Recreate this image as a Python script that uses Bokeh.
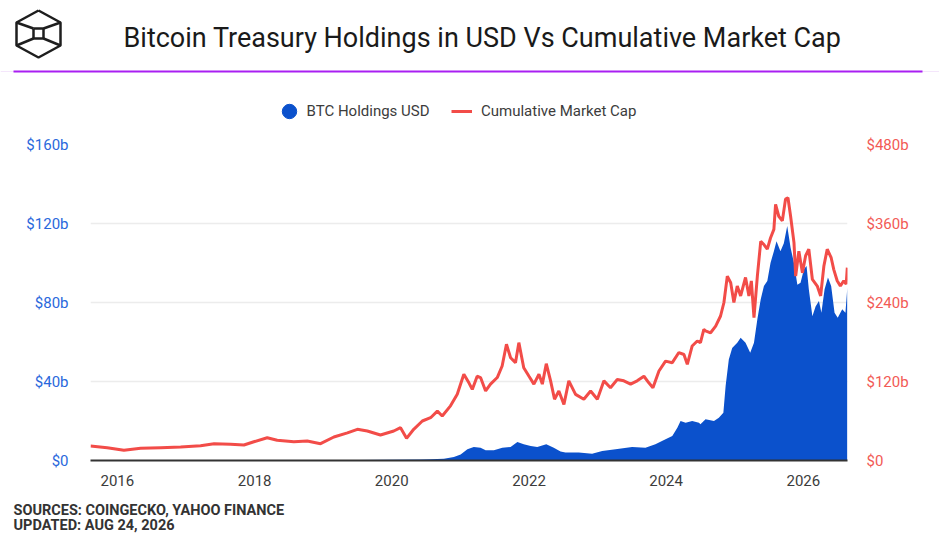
import pandas as pd
from bokeh.core.properties import value
from bokeh.embed import file_html
from bokeh.layouts import column
from bokeh.models import (ColumnDataSource, DatetimeTickFormatter, FixedTicker,
                          Legend, LegendItem, LinearAxis, Range1d)
from bokeh.plotting import figure
from bokeh.resources import INLINE

# Data (billions of USD)
# ---------------------------------------------------
mcap_dates = [
    "2015-08-11", "2015-11-08", "2016-02-05", "2016-05-04", "2016-08-19", "2016-12-03",
    "2017-03-19", "2017-05-30", "2017-08-26", "2017-11-05", "2017-12-28", "2018-03-09",
    "2018-05-01", "2018-07-29", "2018-10-08", "2018-12-18", "2019-02-27", "2019-05-10",
    "2019-07-02", "2019-08-24", "2019-11-02", "2020-01-12", "2020-02-17", "2020-03-20",
    "2020-04-27", "2020-06-12",
    "2020-07-26", "2020-08-31", "2020-09-26", "2020-11-09", "2020-12-15", "2021-01-19",
    "2021-02-15", "2021-03-05", "2021-03-31", "2021-04-18", "2021-05-15", "2021-06-10",
    "2021-07-16", "2021-08-11", "2021-09-03", "2021-09-25", "2021-10-21", "2021-11-08",
    "2021-12-04", "2022-01-01", "2022-01-27", "2022-02-23", "2022-03-13", "2022-04-03",
    "2022-04-26", "2022-05-17", "2022-06-09", "2022-07-06", "2022-08-01", "2022-09-06",
    "2022-10-20", "2022-11-25", "2022-12-31", "2023-02-04", "2023-03-11", "2023-04-16",
    "2023-05-21", "2023-06-26", "2023-07-31", "2023-09-05", "2023-10-01", "2023-10-23",
    "2023-11-24", "2023-12-29", "2024-02-03", "2024-03-09", "2024-04-05", "2024-04-23",
    "2024-05-19", "2024-06-15", "2024-07-02", "2024-07-20", "2024-07-29", "2024-08-25",
    "2024-09-21", "2024-10-17", "2024-11-04", "2024-11-22", "2024-12-10", "2024-12-27",
    "2025-01-14", "2025-02-01", "2025-02-27", "2025-03-17", "2025-03-30", "2025-04-13",
    "2025-05-01", "2025-05-19", "2025-06-05", "2025-06-23", "2025-07-10", "2025-07-28",
    "2025-08-06", "2025-08-23", "2025-09-11", "2025-09-28", "2025-10-11", "2025-10-25",
    "2025-11-12", "2025-11-21", "2025-12-08", "2025-12-27", "2026-01-13", "2026-01-30",
    "2026-02-18", "2026-03-16", "2026-04-03", "2026-04-20", "2026-05-08", "2026-05-29",
    "2026-06-12", "2026-06-30", "2026-07-17", "2026-08-04", "2026-08-17", "2026-08-23",
]
mcap_values = [
    22, 19.5, 15.5, 18.5, 19.5, 20.5,
    22.5, 25.5, 24.6, 23.5, 28.5, 34.6,
    30.7, 28.5, 29.6, 25.5, 35.7, 42,
    47.4, 44.8, 38.7, 44.8, 49.8, 33.7,
    47.4, 60,
    65, 75, 67.6, 83, 100.5, 131,
    118, 108, 128, 126, 105.6, 116,
    126, 143.5, 176.5, 156, 148.6, 179,
    141, 128, 116, 131, 116, 147,
    121, 93, 105.6, 85, 121, 100.5,
    93, 105.6, 93, 121, 110.6, 123,
    121, 116, 121, 128, 118, 110.6,
    136, 151, 148.6, 164, 161, 146,
    174, 181.5, 179, 199, 197, 194,
    204, 219.5, 240, 280, 270, 240,
    265, 250, 278, 250, 272.7, 217,
    280, 333, 328, 321, 338, 351,
    389, 371, 364, 397, 399, 371,
    331, 280, 318, 285, 311, 321,
    275, 265, 250, 295, 321, 308,
    290, 273, 265, 273, 268, 293,
]

holdings_dates = [
    "2015-08-11", "2017-12-31", "2018-01-06", "2019-06-30", "2020-06-03", "2020-07-26",
    "2020-10-05", "2020-11-27", "2021-01-02", "2021-02-07", "2021-03-13", "2021-04-18",
    "2021-05-15", "2021-06-28", "2021-08-12", "2021-09-25", "2021-10-31", "2021-12-04",
    "2022-01-10", "2022-02-14", "2022-04-03", "2022-05-13", "2022-06-18", "2022-07-14",
    "2022-09-23", "2022-12-03", "2023-01-26", "2023-04-07", "2023-07-04", "2023-09-13",
    "2023-11-05", "2023-12-29", "2024-02-03", "2024-03-01", "2024-03-18", "2024-04-14",
    "2024-05-19", "2024-06-24", "2024-07-02", "2024-07-29", "2024-09-12", "2024-10-08",
    "2024-11-01", "2024-11-13", "2024-11-30", "2024-12-18", "2025-01-14", "2025-02-01",
    "2025-02-27", "2025-03-24", "2025-04-13", "2025-05-01", "2025-05-19", "2025-06-05",
    "2025-06-23", "2025-07-10", "2025-07-28", "2025-08-11", "2025-09-01", "2025-09-19",
    "2025-10-07", "2025-10-25", "2025-11-12", "2025-11-30", "2025-12-17", "2026-01-04",
    "2026-01-18", "2026-01-30", "2026-02-18", "2026-03-07", "2026-03-25", "2026-04-07",
    "2026-04-24", "2026-05-12", "2026-05-29", "2026-06-16", "2026-07-03", "2026-07-27",
    "2026-08-13", "2026-08-23",
]
holdings_values = [
    0, 0, 0.2, 0.3, 0.5, 0.6,
    0.9, 1.8, 3.1, 5.7, 6.8, 6.5,
    5.2, 5.2, 6.5, 6.8, 9.4, 8.2,
    7.3, 6.8, 8.2, 6.5, 4.5, 4.0,
    4.0, 3.4, 4.8, 5.7, 6.8, 6.5,
    8.2, 10.7, 12.4, 16.6, 20.0, 19.1,
    20.0, 19.1, 18.3, 20.9, 20.0, 21.7,
    24.2, 37.7, 51.2, 57.0, 59.6, 62.2,
    59.6, 54.6, 59.6, 71.5, 81.6, 88.4,
    90.9, 100.0, 106.0, 111.0, 106.0, 110.0,
    118.7, 107.7, 100.0, 89.0, 90.0, 96.8,
    98.5, 86.7, 73.0, 78.0, 80.8, 74.8,
    86.7, 92.6, 88.4, 74.8, 72.3, 76.6,
    74.8, 87.5,
]

tick_years = [2016, 2018, 2020, 2022, 2024, 2026]
left_ticks = [0, 40, 80, 120, 160]
left_labels = ["$0", "$40b", "$80b", "$120b", "$160b"]
right_ticks = [0, 120, 240, 360, 480]
right_labels = ["$0", "$120b", "$240b", "$360b", "$480b"]

title_text = "Bitcoin Treasury Holdings in USD Vs Cumulative Market Cap"
source_lines = ["SOURCES: COINGECKO, YAHOO FINANCE", "UPDATED: AUG 24, 2026"]

BLUE = "#0b51cc"
BLUE_TEXT = "#2a68dc"
RED = "#f24c48"
RED_TEXT = "#f25a55"
FONT = "Roboto"

# the page template has no body margin, so figures start at (0, 0)
W = 939
H_HEAD = 132
H_MAIN = 358
H_FOOT = 44


def bare_figure(height, top):
    # figure whose data coordinates equal page pixels
    f = figure(width=W, height=height, x_range=Range1d(0, W),
               y_range=Range1d(top + height, top), output_backend="svg",
               toolbar_location=None, x_axis_location=None, y_axis_location=None,
               min_border=0)
    f.grid.visible = False
    f.outline_line_color = None
    f.frame_align = False
    return f


# Header: logo, title, divider, legend
# ------------------------------------
head = bare_figure(H_HEAD, 0)

hex_x = [38, 60, 60, 38, 16, 16, 38]
hex_y = [10, 22, 45, 57, 45, 22, 10]
head.line(hex_x, hex_y, line_color="#1e1e1e", line_width=2.5)
head.line([33, 43, 43, 33, 33], [28, 28, 38, 38, 28], line_color="#1e1e1e", line_width=2.5)
head.multi_line(xs=[[16, 33], [60, 43], [16, 33], [60, 43]],
                ys=[[22, 28], [22, 28], [45, 38], [45, 38]],
                line_color="#1e1e1e", line_width=2.5)

head.text(x=[123], y=[37], text=[title_text], text_font=value(FONT),
          text_font_size="27px", text_color="#1a1a1a",
          text_baseline="middle", text_align="left")

head.segment(x0=[0], y0=[71], x1=[939], y1=[71], line_color="#f4e6fb", line_width=1)
head.segment(x0=[13], y0=[71], x1=[922], y1=[71], line_color="#a91ff2", line_width=2)

# legend-only renderers, parked outside the visible range
dummy_blue = head.scatter(x=[-100], y=[-100], marker="circle", size=14, color=BLUE)
dummy_red = head.line(x=[-100, -90], y=[-100, -100], line_color=RED, line_width=3)

# legend location is (left, bottom) in pixels from the frame's lower-left corner
legend_blue = Legend(items=[LegendItem(label="BTC Holdings USD", renderers=[dummy_blue])],
                     location=(270.5, H_HEAD - 128.5), glyph_width=36, glyph_height=36,
                     label_standoff=0)
legend_red = Legend(items=[LegendItem(label="Cumulative Market Cap", renderers=[dummy_red])],
                    location=(451, H_HEAD - 120.5), glyph_width=21, glyph_height=20,
                    label_standoff=9)
for lg in (legend_blue, legend_red):
    lg.padding = 0
    lg.margin = 0
    lg.border_line_color = None
    lg.background_fill_alpha = 0
    lg.label_text_font = FONT
    lg.label_text_font_size = "15px"
    lg.label_text_color = "#3c3c3c"
    lg.label_height = 20
    head.add_layout(lg, "center")

# Main chart
# ----------
holdings = ColumnDataSource(data={
    "date": pd.to_datetime(holdings_dates),
    "value": holdings_values,
})
mcap = ColumnDataSource(data={
    "date": pd.to_datetime(mcap_dates),
    "value": mcap_values,
})

p = figure(width=W, height=H_MAIN, x_axis_type="datetime",
           x_range=Range1d(pd.Timestamp("2015-08-11"), pd.Timestamp("2026-08-24")),
           y_range=Range1d(0, 160), output_backend="svg", toolbar_location=None,
           min_border_left=90, min_border_right=92, min_border_top=12,
           min_border_bottom=30)
p.frame_align = False
p.extra_y_ranges = {"mcap": Range1d(0, 480)}
p.outline_line_color = None
p.xgrid.visible = False
p.ygrid.grid_line_color = "#ececec"
p.ygrid.grid_line_width = 1.5

p.varea(x="date", y1=0, y2="value", source=holdings, fill_color=BLUE)
p.line(x="date", y="value", source=mcap, y_range_name="mcap",
       line_color=RED, line_width=3)

# Adjust axes
p.xaxis.ticker = FixedTicker(
    ticks=[pd.Timestamp(f"{y}-01-01").value / 1e6 for y in tick_years])
p.xaxis.formatter = DatetimeTickFormatter(years="%Y", months="%Y", days="%Y",
                                          hours="%Y", minutes="%Y")
p.xaxis.axis_line_color = "#333333"
p.xaxis.axis_line_width = 2
p.xaxis.major_label_standoff = 8
p.xaxis.major_label_text_color = "#3c3c3c"

p.yaxis.ticker = FixedTicker(ticks=left_ticks)
p.yaxis.major_label_overrides = dict(zip(left_ticks, left_labels))
p.yaxis.major_label_text_color = BLUE_TEXT
p.yaxis.major_label_standoff = 16
p.yaxis.axis_line_color = None

right_axis = LinearAxis(y_range_name="mcap", ticker=FixedTicker(ticks=right_ticks),
                        major_label_overrides=dict(zip(right_ticks, right_labels)))
right_axis.major_label_text_color = RED_TEXT
right_axis.major_label_standoff = 13
right_axis.axis_line_color = None
p.add_layout(right_axis, "right")

for ax in p.axis:
    ax.major_tick_line_color = None
    ax.minor_tick_line_color = None
    ax.major_label_text_font = FONT
    ax.major_label_text_font_size = "15px"

# Footer: sources
# ---------------
foot = bare_figure(H_FOOT, H_HEAD + H_MAIN)
foot.text(x=[13, 13], y=[509.5, 524.5], text=source_lines, text_font=value(FONT),
          text_font_size="14.5px", text_font_style="bold", text_color="#333333",
          text_baseline="middle", text_align="left")

layout = column(head, p, foot)
open("out.html", "w").write(file_html(layout, INLINE))
